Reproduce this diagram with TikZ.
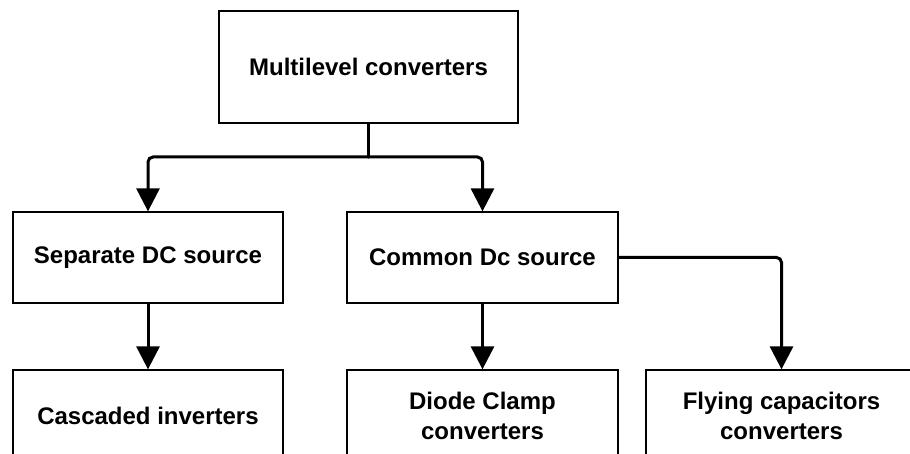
\documentclass[tikz,border=0pt]{standalone}
\usepackage{fontspec}
\setmainfont{Liberation Sans}
\usetikzlibrary{arrows.meta}
\begin{document}
\begin{tikzpicture}[x=1pt,y=-1pt,
  box/.style={draw=black, line width=1.3pt, rectangle, inner sep=0pt,
    minimum width=#1, minimum height=91pt, align=center,
    font=\bfseries\fontsize{24}{30}\selectfont},
  box/.default=271pt,
  conn/.style={line width=3pt, rounded corners=5pt, line cap=round,
    -{Triangle[length=23pt,width=23pt]}},
  plain/.style={line width=3pt, line cap=round}]
\useasboundingbox (0,0) rectangle (910,454);
\clip (0,0) rectangle (910,454);
\fill[white] (0,0) rectangle (910,454);
\node[box=299pt, minimum height=112pt] (top) at (368.5,67) {Multilevel converters};
\node[box=270pt] (sep) at (148,257.5) {Separate DC source};
\node[box] (com) at (482.5,257.5) {Common Dc source};
\node[box=270pt] (cas) at (148,415.5) {Cascaded inverters};
\node[box] (dio) at (482.5,415.5) {Diode Clamp\\converters};
\node[box] (fly) at (781.5,415.5) {Flying capacitors\\converters};
\coordinate (br) at (368.5,157);
\draw[plain] (top.south) -- (br);
\draw[conn] (br) -| (sep.north);
\draw[conn] (br) -| (com.north);
\draw[conn] (sep.south) -- (cas.north);
\draw[conn] (com.south) -- (dio.north);
\draw[conn] (com.east) -| (fly.north);
\end{tikzpicture}
\end{document}
